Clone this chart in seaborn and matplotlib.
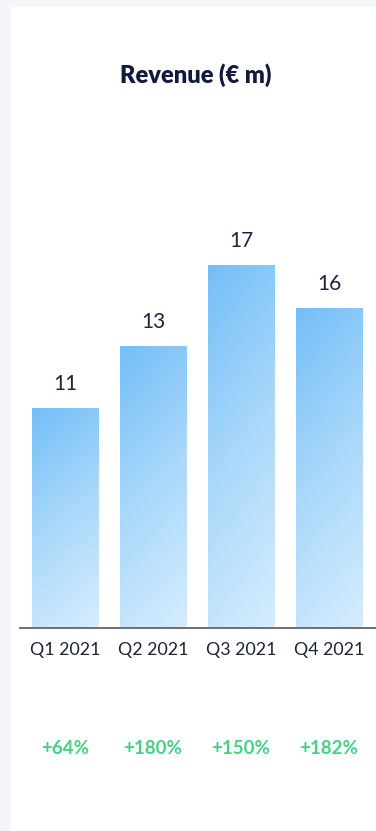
import numpy as np
import pandas as pd
import matplotlib
matplotlib.use("Agg")
import matplotlib.pyplot as plt
import seaborn as sns
from matplotlib.colors import LinearSegmentedColormap

# ---- data ----
quarters = ["Q1 2021", "Q2 2021", "Q3 2021", "Q4 2021"]
revenue = [11.0, 14.1, 18.15, 16.0]          # bar heights as drawn
revenue_labels = ["11", "13", "17", "16"]     # printed values
growth_labels = ["+64%", "+180%", "+150%", "+182%"]
title = "Revenue (€ m)"

sns.set_theme(style="white")
plt.rcParams["font.family"] = ["Lato", "DejaVu Sans"]

W, H = 376, 831
fig = plt.figure(figsize=(W / 100, H / 100), dpi=100)
fig.patch.set_facecolor("#f4f5f9")
# white card
fig.add_artist(plt.Rectangle((11 / W, 0), 1 - 11 / W, 1 - 7 / H,
                             transform=fig.transFigure, facecolor="white",
                             edgecolor="none", zorder=0))

ax_bottom = 628
ax_top = 150
ax = fig.add_axes([20 / W, 1 - ax_bottom / H, (W - 20) / W, (ax_bottom - ax_top) / H])
ax.set_facecolor("none")

df = pd.DataFrame({"quarter": quarters, "revenue": revenue})
sns.barplot(data=df, x="quarter", y="revenue", ax=ax, width=0.75,
            color="#8ccbf8", saturation=1, edgecolor="none")

ax.set_xlim(-0.511, 3.534)
ax.set_ylim(0, (ax_bottom - ax_top) / 20.0)

cmap = LinearSegmentedColormap.from_list("g", ["#74bff7", "#a9d8fa", "#d6edfd"])
yy, xx = np.mgrid[0:1:200j, 0:1:100j]
grad = 0.8 * yy + 0.2 * xx
for p in ax.patches:
    x0, y0 = p.get_x(), p.get_y()
    w, h = p.get_width(), p.get_height()
    im = ax.imshow(grad, cmap=cmap, extent=[x0, x0 + w, y0, y0 + h],
                   origin="upper", aspect="auto", zorder=2, vmin=0, vmax=1)
    im.set_clip_path(p)
    p.set_facecolor("none")

for i, (v, lab) in enumerate(zip(revenue, revenue_labels)):
    ax.annotate(lab, (i, v), xytext=(0, 17), textcoords="offset points",
                ha="center", va="center", fontsize=15, color="#1f2440")

for i, lab in enumerate(growth_labels):
    ax.text(i, -120 / 20.0, lab, ha="center", va="center", fontsize=13.5,
            color="#44d283", fontweight="bold")

for s in ["top", "right", "left"]:
    ax.spines[s].set_visible(False)
ax.spines["bottom"].set_color("#6b6f7a")
ax.spines["bottom"].set_linewidth(1.4)
ax.set_yticks([])
ax.set_xlabel("")
ax.set_ylabel("")
ax.tick_params(axis="x", length=0, pad=10, labelsize=12.8, labelcolor="#1b2236")

fig.text(196 / W, 1 - 75 / H, title, ha="center", va="center",
         fontsize=17, fontweight="heavy", color="#111a3d")

fig.savefig("out.png", dpi=100)
